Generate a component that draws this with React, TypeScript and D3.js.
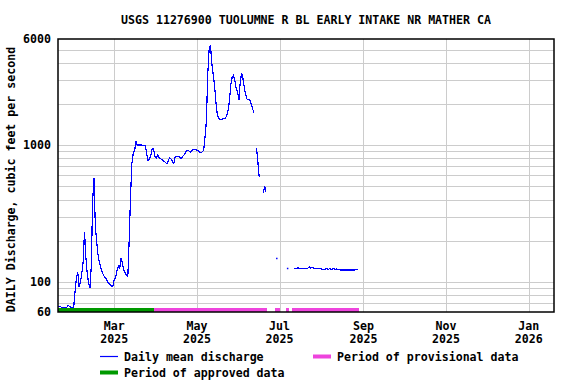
import * as d3 from 'd3';

const title = 'USGS 11276900 TUOLUMNE R BL EARLY INTAKE NR MATHER CA';
const yTitle = 'DAILY Discharge, cubic feet per second';

// daily mean discharge, cfs — each run starts on its date, gaps between runs
const run1Start = '2025-01-18';
const run1 = [
  66, 66, 66, 65, 65, 65, 65, 65, 67, 66,
  65, 65, 65, 85, 105, 118, 92, 100, 115, 140,
  232, 150, 115, 98, 90, 130, 390, 571, 250, 197,
  157, 138, 127, 118, 112, 108, 105, 100, 97, 95,
  93, 93, 105, 107, 120, 131, 125, 150, 136, 122,
  116, 112, 110, 205, 430, 740, 880, 915, 1060, 1003,
  1003, 1003, 1003, 1000, 995, 990, 850, 767, 790, 848,
  945, 945, 824, 800, 848, 810, 795, 790, 770, 760,
  745, 731, 780, 810, 790, 760, 735, 824, 824, 824,
  824, 800, 815, 840, 860, 900, 913, 913, 889, 905,
  923, 933, 928, 920, 908, 884, 878, 895, 920, 1150,
  1500, 3300, 5000, 5450, 4000, 3300, 2750, 2100, 1680, 1580,
  1540, 1550, 1560, 1560, 1570, 1650, 1800, 2100, 2750, 3140,
  3250, 3000, 2620, 2450, 2150, 2900, 3400, 3080, 2650, 2350,
  2180, 2150, 2170, 2000, 1880, 1730,
];
const run2Start = '2025-06-14';
const run2 = [950, 760, 580];
const run3Start = '2025-06-19';
const run3 = [446, 500, 455];
const run4Start = '2025-06-29';
const run4 = [148];
const run5Start = '2025-07-07';
const run5 = [125];
const run6Start = '2025-07-12';
const run6 = [
  125, 125, 126, 126, 125, 124.5, 124.5, 125, 125, 125,
  126, 128, 126, 128, 126, 125, 126, 125, 124, 125,
  124, 123, 122.5, 124, 126, 123, 125, 123, 124, 125,
  123.5, 124, 123, 122.5, 122, 122, 122, 122, 122, 122,
  122, 122, 122, 122, 122, 122, 123, 123,
];

const approvedPeriods = [['2025-01-10', '2025-03-30']];
const provisionalPeriods = [
  ['2025-03-30', '2025-06-22'],
  ['2025-06-28', '2025-07-01'],
  ['2025-07-06', '2025-07-08'],
  ['2025-07-10', '2025-08-29'],
];

const yTickLabels = [60, 100, 1000, 6000];

const parseDay = d3.utcParse('%Y-%m-%d');

function buildRun(start: string, vals: number[]) {
  const t0 = parseDay(start) as Date;
  return vals.map((v, i) => ({ date: d3.utcDay.offset(t0, i), value: v }));
}

const runs = [
  buildRun(run1Start, run1),
  buildRun(run2Start, run2),
  buildRun(run3Start, run3),
  buildRun(run4Start, run4),
  buildRun(run5Start, run5),
  buildRun(run6Start, run6),
];

const W = 576;
const H = 384;
const plot = { left: 58, right: 554, top: 39, bottom: 312 };
const font = "'DejaVu Sans Mono', monospace";
const fs = 11.6;

const BLUE = '#0000ff';
const GREEN = '#009900';
const PINK = '#ee44dd';
const GRID = '#cccccc';

export default function App() {
  const x = d3
    .scaleUtc()
    .domain([new Date(Date.UTC(2025, 0, 18, 10)), new Date(Date.UTC(2026, 0, 19, 17))])
    .range([plot.left, plot.right]);
  const y = d3.scaleLog().domain([60, 6000]).range([plot.bottom, plot.top]);

  const yGrid = y.ticks().filter((t) => t > 60 && t < 6000);
  const xTicks = x.ticks(d3.utcMonth.every(2) as d3.TimeInterval);
  const fmtMonth = d3.utcFormat('%b');
  const fmtYear = d3.utcFormat('%Y');

  const line = d3
    .line<{ date: Date; value: number }>()
    .x((d) => x(d.date))
    .y((d) => y(d.value));

  const bar = (p: string[]) => {
    const x0 = Math.max(plot.left, x(parseDay(p[0]) as Date));
    const x1 = x(parseDay(p[1]) as Date);
    return { x0, x1 };
  };

  return (
    <svg
      width={W}
      height={H}
      style={{ position: 'absolute', left: 0, top: 0, background: '#fff' }}
      fontFamily={font}
      fontWeight="bold"
      fontSize={fs}
    >
      <defs>
        <clipPath id="plotclip">
          <rect x={plot.left} y={plot.top} width={plot.right - plot.left} height={plot.bottom - plot.top} />
        </clipPath>
      </defs>

      <text x={(plot.left + plot.right) / 2} y={24} textAnchor="middle">
        {title}
      </text>

      {/* grid */}
      <g stroke={GRID} strokeWidth={1} shapeRendering="crispEdges">
        {yGrid.map((t) => (
          <line key={'gy' + t} x1={plot.left} x2={plot.right} y1={Math.round(y(t)) + 0.5} y2={Math.round(y(t)) + 0.5} />
        ))}
        {xTicks.map((t) => (
          <line key={'gx' + t.getTime()} x1={Math.round(x(t)) + 0.5} x2={Math.round(x(t)) + 0.5} y1={plot.top} y2={plot.bottom} />
        ))}
      </g>

      {/* data approval bars */}
      <g shapeRendering="crispEdges">
        {approvedPeriods.map((p, i) => {
          const b = bar(p);
          return <rect key={'a' + i} x={b.x0} y={plot.bottom - 4} width={b.x1 - b.x0} height={4} fill={GREEN} />;
        })}
        {provisionalPeriods.map((p, i) => {
          const b = bar(p);
          return <rect key={'p' + i} x={b.x0} y={plot.bottom - 4} width={b.x1 - b.x0} height={4} fill={PINK} />;
        })}
      </g>

      {/* discharge */}
      <g clipPath="url(#plotclip)">
        {runs.map((r, i) =>
          r.length > 1 ? (
            <path key={'r' + i} d={line(r) || ''} fill="none" stroke={BLUE} strokeWidth={1.2} shapeRendering="crispEdges" />
          ) : (
            <rect key={'r' + i} x={x(r[0].date) - 0.75} y={y(r[0].value) - 0.75} width={1.5} height={1.5} fill={BLUE} />
          )
        )}
      </g>

      {/* frame */}
      <rect
        x={plot.left}
        y={plot.top}
        width={plot.right - plot.left}
        height={plot.bottom - plot.top}
        fill="none"
        stroke="#000"
        strokeWidth={1.5}
      />

      {/* y labels */}
      {yTickLabels.map((t) => (
        <text key={'yl' + t} x={51} y={y(t) + 4.2} textAnchor="end">
          {t}
        </text>
      ))}
      <text transform={`translate(15, ${(plot.top + plot.bottom) / 2 + 4}) rotate(-90)`} textAnchor="middle">
        {yTitle}
      </text>

      {/* x labels */}
      {xTicks.map((t) => (
        <g key={'xl' + t.getTime()}>
          <text x={x(t)} y={330} textAnchor="middle">
            {fmtMonth(t)}
          </text>
          <text x={x(t)} y={343} textAnchor="middle">
            {fmtYear(t)}
          </text>
        </g>
      ))}

      {/* legend */}
      <line x1={100} x2={118} y1={356.5} y2={356.5} stroke={BLUE} strokeWidth={1.2} />
      <text x={124} y={360.5}>Daily mean discharge</text>
      <rect x={313} y={354.5} width={18} height={4} fill={PINK} />
      <text x={337} y={360.5}>Period of provisional data</text>
      <rect x={100} y={370.5} width={18} height={4} fill={GREEN} />
      <text x={124} y={376.5}>Period of approved data</text>
    </svg>
  );
}
